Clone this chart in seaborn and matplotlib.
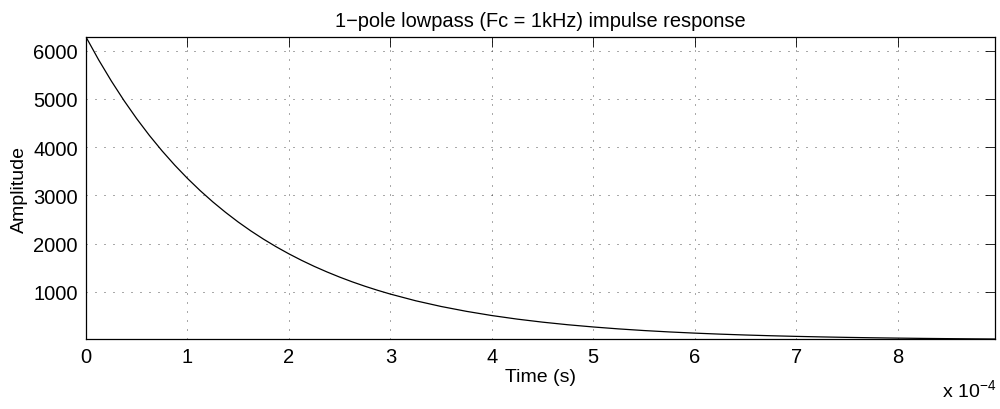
import matplotlib
matplotlib.use("Agg")
import matplotlib.pyplot as plt
import seaborn as sns
import pandas as pd
from matplotlib.ticker import FuncFormatter

# Time values (s) and amplitude
time_s = [0.0, 0.125e-4, 0.25e-4, 0.375e-4, 0.5e-4, 0.625e-4, 0.75e-4, 0.875e-4,
          1.0e-4, 1.125e-4, 1.25e-4, 1.375e-4, 1.5e-4, 1.625e-4, 1.75e-4, 1.875e-4,
          2.0e-4, 2.125e-4, 2.25e-4, 2.375e-4, 2.5e-4, 2.625e-4, 2.75e-4, 2.875e-4,
          3.0e-4, 3.25e-4, 3.5e-4, 3.75e-4,
          4.0e-4, 4.25e-4, 4.5e-4, 4.75e-4, 5.0e-4, 5.25e-4, 5.5e-4, 5.75e-4,
          6.0e-4, 6.25e-4, 6.5e-4, 6.75e-4, 7.0e-4, 7.25e-4, 7.5e-4, 7.75e-4,
          8.0e-4, 8.25e-4, 8.5e-4, 8.75e-4, 8.96e-4]
amplitude = [6283, 5808, 5370, 4964, 4589, 4242, 3922, 3626,
             3352, 3099, 2865, 2649, 2448, 2263, 2092, 1934,
             1788, 1653, 1528, 1413, 1306, 1207, 1116, 1032,
             954, 815, 697, 596,
             509, 435, 372, 318, 272, 232, 198, 169,
             144.5, 123.5, 105.5, 90.2, 77.1, 65.9, 56.3, 48.1,
             41.1, 35.1, 30.0, 25.6, 22.4]
y_ticks = [1000, 2000, 3000, 4000, 5000, 6000]
x_ticks = [0, 1e-4, 2e-4, 3e-4, 4e-4, 5e-4, 6e-4, 7e-4, 8e-4]
title = "1\u2212pole lowpass (Fc = 1kHz) impulse response"

sns.set_style("white")
plt.rcParams["font.family"] = ["Liberation Sans", "DejaVu Sans"]
plt.rcParams["mathtext.fontset"] = "custom"
plt.rcParams["mathtext.rm"] = "Liberation Sans"
plt.rcParams["mathtext.it"] = "Liberation Sans"
plt.rcParams["text.color"] = "black"
plt.rcParams["axes.labelcolor"] = "black"

df = pd.DataFrame({"t": time_s, "a": amplitude})

fig = plt.figure(figsize=(10, 4.1), dpi=100)
ax = fig.add_axes([0.086, 0.1707, 0.909, 0.7366])
sns.lineplot(data=df, x="t", y="a", ax=ax, color="black", linewidth=0.9)

ax.set_xlim(0, 8.96e-4)
ax.set_ylim(min(amplitude), max(amplitude))
ax.set_xticks(x_ticks)
ax.set_yticks(y_ticks)
ax.xaxis.set_major_formatter(FuncFormatter(lambda v, p: f"{v/1e-4:.0f}"))
ax.yaxis.set_major_formatter(FuncFormatter(lambda v, p: f"{v:.0f}"))

ax.tick_params(direction="in", length=7, width=0.6, top=True, right=True,
               labelsize=14.5, pad=6, colors="black")
for s in ax.spines.values():
    s.set_visible(True)
    s.set_color("black")
    s.set_linewidth(0.9)

ax.grid(True, color="black", linewidth=0.6, linestyle=(0, (1.2, 9.6)), alpha=0.8)

ax.set_title(title, fontsize=14.4, pad=8, color="black")
ax.set_xlabel("Time (s)", fontsize=14, labelpad=1)
ax.set_ylabel("Amplitude", fontsize=14, labelpad=4)

fig.text(0.996, 0.022, r"x 10$^{-4}$", ha="right", va="bottom", fontsize=14)

fig.savefig("out.png", dpi=100)
